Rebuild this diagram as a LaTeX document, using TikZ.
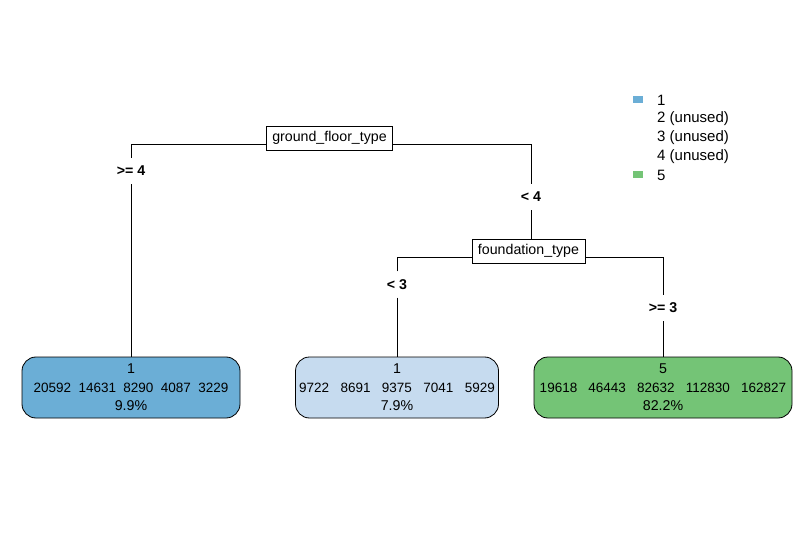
\documentclass[tikz,border=0pt]{standalone}
\usepackage{fontspec}
\setmainfont{Liberation Sans}
\definecolor{leafblue}{HTML}{6BAED6}
\definecolor{leaflight}{HTML}{C6DBEF}
\definecolor{leafgreen}{HTML}{74C476}
\newcommand{\numrow}[1]{{\fontsize{13.5}{16}\selectfont #1}}
\begin{document}
\begin{tikzpicture}[x=1pt,y=-1pt,
  txt/.style={font=\fontsize{14.2}{16}\selectfont},
  split/.style={txt, draw, line width=0.8pt, inner xsep=6pt, inner ysep=0pt, minimum height=24pt, fill=white},
  cond/.style={font=\fontsize{14.2}{16}\selectfont\bfseries, inner sep=0pt, minimum height=26pt, minimum width=20pt},
  leafbox/.style={txt, draw, line width=0.8pt, rounded corners=14pt, minimum height=61pt, inner sep=0pt, align=center},
  edge/.style={line width=0.8pt},
  key/.style={inner sep=0pt, minimum width=10pt, minimum height=7pt},
  keytext/.style={font=\fontsize{15}{17}\selectfont, anchor=west, inner sep=0pt}
]
\useasboundingbox (0,0) rectangle (809,540);
\fill[white] (0,0) rectangle (809,540);

% split nodes
\node[split] (root) at (329.5,138) {ground\_floor\_type};
\node[split] (fnd) at (528.5,251) {foundation\_type};

% leaves
\node[leafbox, fill=leafblue, minimum width=218pt] (leafA) at (131,387.5)
  {1\\[2.5pt]\numrow{20592\hspace{7.4pt}14631\hspace{7.4pt}8290\hspace{7.4pt}4087\hspace{7.4pt}3229}\\[2.5pt]9.9\%};
\node[leafbox, fill=leaflight, minimum width=203pt] (leafB) at (397,387.5)
  {1\\[2.5pt]\numrow{9722\hspace{11.4pt}8691\hspace{11.4pt}9375\hspace{11.4pt}7041\hspace{11.4pt}5929}\\[2.5pt]7.9\%};
\node[leafbox, fill=leafgreen, minimum width=258pt] (leafC) at (663,387.5)
  {5\\[2.5pt]\numrow{19618\hspace{11.2pt}46443\hspace{11.2pt}82632\hspace{11.2pt}112830\hspace{11.2pt}162827}\\[2.5pt]82.2\%};

% split conditions
\node[cond] (c1) at (131,171) {>= 4};
\node[cond] (c2) at (531,197) {< 4};
\node[cond] (c3) at (397,284.5) {< 3};
\node[cond] (c4) at (663,308) {>= 3};

% branches
\draw[edge] (c1) |- ([yshift=-6pt]root.west);
\draw[edge] ([yshift=-6pt]root.east) -| (c2);
\draw[edge] (c1) -- (c1 |- leafA.north);
\draw[edge] (c2) -- (c2 |- fnd.north);
\draw[edge] (c3) |- ([yshift=-6pt]fnd.west);
\draw[edge] ([yshift=-6pt]fnd.east) -| (c4);
\draw[edge] (c3) -- (c3 |- leafB.north);
\draw[edge] (c4) -- (c4 |- leafC.north);

% legend
\node[key, fill=leafblue] (k1) at (637.7,99.3) {};
\node[key, fill=leafgreen] (k5) at (637.7,174.3) {};
\node[keytext] (t1) at (657,100) {1};
\node[keytext] (t2) at (657,118.8) {2 (unused)};
\node[keytext] (t3) at (657,137.6) {3 (unused)};
\node[keytext] (t4) at (657,156.4) {4 (unused)};
\node[keytext] (t5) at (657,175.2) {5};
\end{tikzpicture}
\end{document}
